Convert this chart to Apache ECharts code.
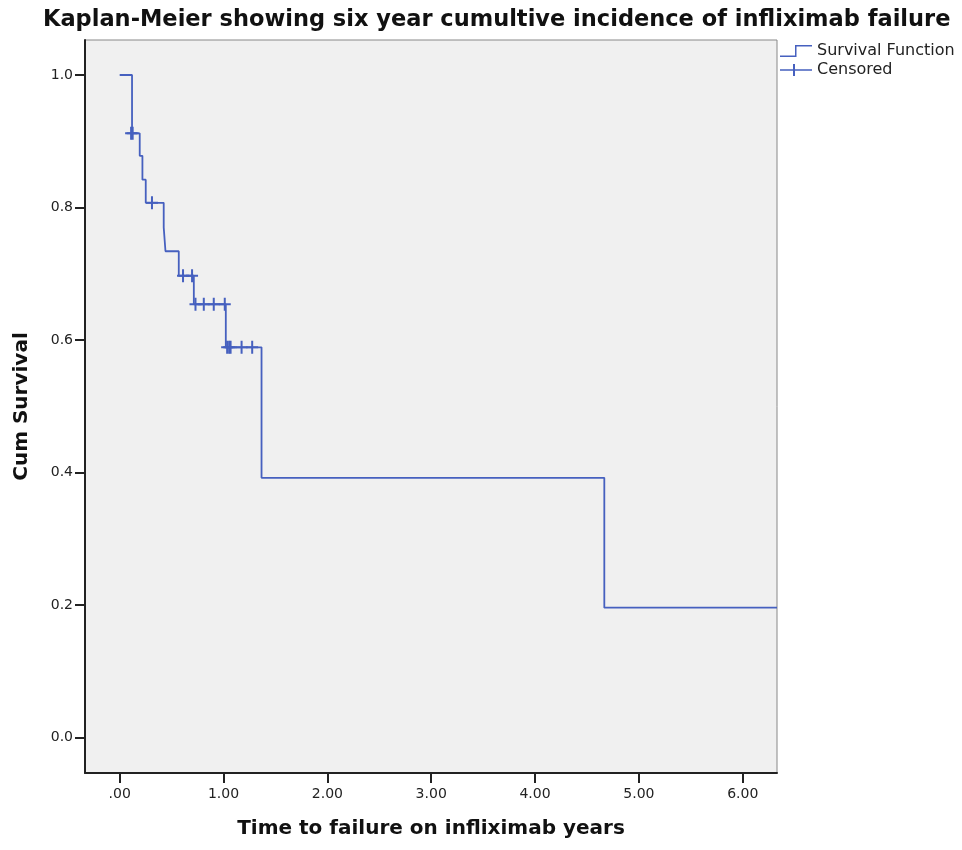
<!DOCTYPE html>
<html>
<head>
<meta charset="utf-8">
<script src="https://cdn.jsdelivr.net/npm/echarts@6/dist/echarts.min.js"></script>
<style>
  html, body { margin: 0; padding: 0; background: #fff; }
  #main { width: 962px; height: 850px; }
</style>
</head>
<body>
<div id="main"></div>
<script>
// step points of the survival curve (years, cum survival)
const times = [0, 0.119, 0.193, 0.219, 0.251, 0.424, 0.441, 0.569, 0.714, 1.022, 1.366, 4.667, 6.33];
const surv = [1.0, 0.912, 0.878, 0.842, 0.807, 0.770, 0.734, 0.697, 0.654, 0.589, 0.392, 0.196, 0.196];

// censored observations
const censorTimes = [0.110, 0.125, 0.311, 0.610, 0.697, 0.730, 0.810, 0.906, 1.012, 1.035, 1.054, 1.068, 1.174, 1.276];
const censorSurv = [0.912, 0.912, 0.807, 0.697, 0.697, 0.654, 0.654, 0.654, 0.654, 0.589, 0.589, 0.589, 0.589, 0.589];

const xTicks = [0, 1, 2, 3, 4, 5, 6];
const yTicks = [0, 0.2, 0.4, 0.6, 0.8, 1.0];

const blue = '#4660bf';
const font = 'DejaVu Sans, Liberation Sans, sans-serif';

const stepIcon = 'path://M0,10.5L15,10.5L15,0L32,0L32,1.5L16.5,1.5L16.5,12L0,12Z';
const plusIcon = 'path://M0,5.25h32v1.5H0z M13,0h2v12h-2z';
const plusMark = 'path://M0,5.5h12v2H0z M5,0h2v13h-2z';

let chart = echarts.init(document.getElementById('main'));
chart.setOption({
    backgroundColor: '#fff',
    animation: false,
    title: {
        text: 'Kaplan-Meier showing six year cumultive incidence of infliximab failure',
        left: 38,
        top: 4,
        textStyle: { fontFamily: font, fontSize: 22.5, fontWeight: 'bold', color: '#111' }
    },
    legend: {
        orient: 'vertical',
        left: 775,
        top: 38,
        itemWidth: 32,
        itemHeight: 12,
        itemGap: 3,
        textStyle: { fontFamily: font, fontSize: 16, color: '#222' },
        data: [
            { name: 'Survival Function', icon: stepIcon },
            { name: 'Censored', icon: plusIcon }
        ]
    },
    grid: {
        left: 85,
        right: 185,
        top: 40,
        bottom: 77,
        show: true,
        backgroundColor: '#f0f0f0',
        borderColor: '#888',
        borderWidth: 1
    },
    xAxis: {
        type: 'value',
        min: -0.334,
        max: 6.33,
        name: 'Time to failure on infliximab years',
        nameLocation: 'middle',
        nameGap: 46,
        nameTextStyle: { fontFamily: font, fontSize: 20, fontWeight: 'bold', color: '#111' },
        axisLine: { show: true, onZero: false, lineStyle: { color: '#222', width: 2 } },
        axisTick: { show: true, length: 10, customValues: xTicks, lineStyle: { color: '#222', width: 2 } },
        axisLabel: {
            customValues: xTicks,
            margin: 14,
            fontFamily: font,
            fontSize: 14,
            color: '#222',
            formatter: v => v === 0 ? '.00' : v.toFixed(2)
        },
        splitLine: { show: false }
    },
    yAxis: {
        type: 'value',
        min: -0.0535,
        max: 1.0528,
        name: 'Cum Survival',
        nameLocation: 'middle',
        nameGap: 53,
        nameTextStyle: { fontFamily: font, fontSize: 20, fontWeight: 'bold', color: '#111' },
        axisLine: { show: true, onZero: false, lineStyle: { color: '#222', width: 2 } },
        axisTick: { show: true, length: 10, customValues: yTicks, lineStyle: { color: '#222', width: 2 } },
        axisLabel: {
            customValues: yTicks,
            margin: 12,
            fontFamily: font,
            fontSize: 14,
            color: '#222',
            formatter: v => v.toFixed(1)
        },
        splitLine: { show: false }
    },
    series: [{
        name: 'Survival Function',
        type: 'line',
        step: 'end',
        showSymbol: false,
        color: blue,
        itemStyle: { color: blue },
        lineStyle: { color: blue, width: 1.8 },
        data: times.map((t, i) => [t, surv[i]])
    }, {
        name: 'Censored',
        type: 'scatter',
        symbol: plusMark,
        symbolSize: [12, 13],
        color: blue,
        itemStyle: { color: blue, opacity: 1 },
        data: censorTimes.map((t, i) => [t, censorSurv[i]])
    }]
});
</script>
</body>
</html>
